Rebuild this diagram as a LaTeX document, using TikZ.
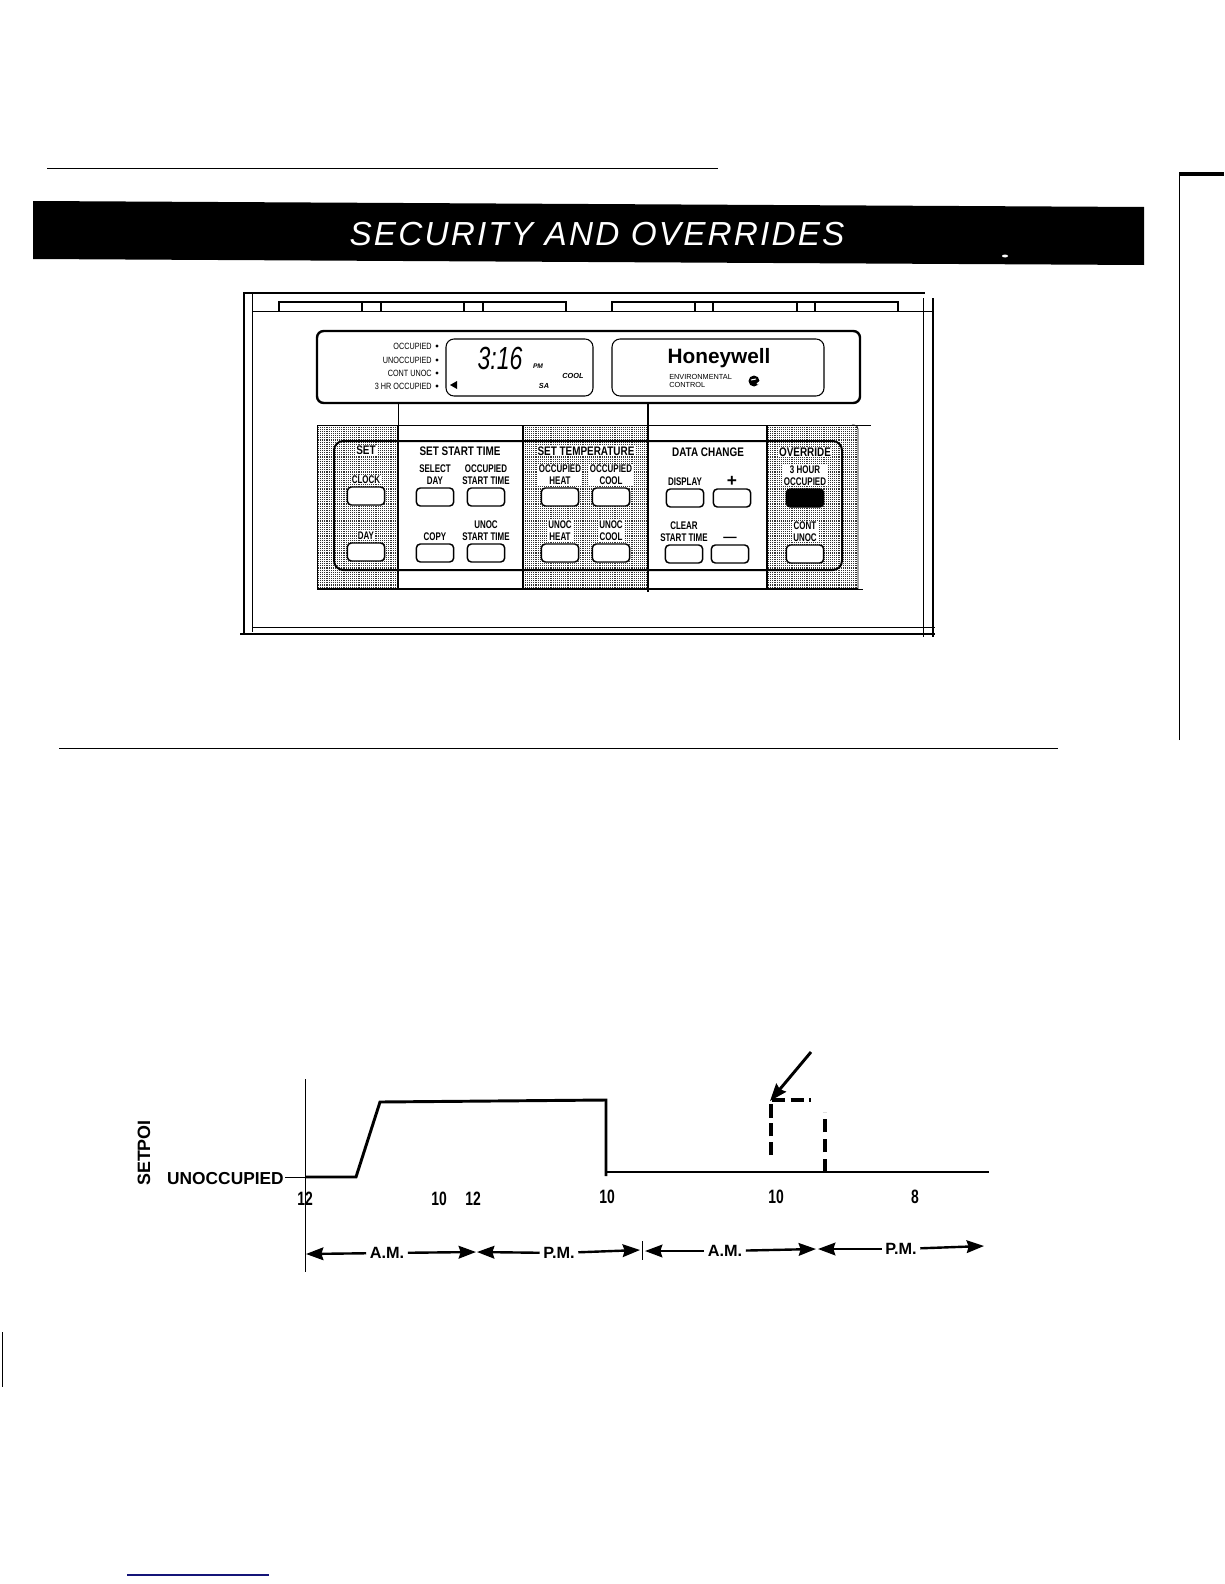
\documentclass[tikz,border=0pt]{standalone}
\usepackage{fontspec}
\usepackage{tikz}
\usetikzlibrary{arrows.meta, positioning, patterns}
\setmainfont{Liberation Sans}
\newfontfamily\keyfont[FakeStretch=0.72]{Liberation Sans}
\newfontfamily\titlefont[FakeStretch=0.8]{Liberation Sans}
\newfontfamily\bannerfont[LetterSpace=6.5]{Liberation Sans}
\pgfdeclarepatternformonly{stipple}{\pgfqpoint{-0.5pt}{-0.5pt}}{\pgfqpoint{2pt}{2pt}}{\pgfqpoint{1.6pt}{1.6pt}}{
  \pgfpathrectangle{\pgfqpoint{0pt}{0pt}}{\pgfqpoint{0.85pt}{0.85pt}}
  \pgfusepath{fill}
}
\definecolor{footblue}{RGB}{20,20,120}
\tikzstyle{rulerline} = [black, line width=0.6pt]
\tikzstyle{keybutton} = [rectangle, rounded corners=3pt, draw=black, line width=1.1pt, fill=white, minimum width=28pt, minimum height=13.5pt, inner sep=0pt]
\tikzstyle{keytext} = [font=\keyfont\bfseries\fontsize{8.3}{8.6}\selectfont, align=center, inner sep=0.6pt]
\tikzstyle{halotext} = [keytext, fill=white]
\tikzstyle{grouptext} = [font=\titlefont\bfseries\fontsize{9.3}{10}\selectfont, inner sep=0.8pt]
\tikzstyle{leftlabel} = [font=\titlefont\fontsize{6.8}{7}\selectfont, anchor=east, inner sep=0pt]
\tikzstyle{hourlabel} = [font=\keyfont\bfseries\fontsize{14.5}{15}\selectfont, inner sep=0pt]
\tikzstyle{spanlabel} = [font=\bfseries\fontsize{12.2}{13}\selectfont, inner sep=2.5pt]
\tikzstyle{spanarrow} = [line width=1.8pt, -{Stealth[length=13pt,width=9.5pt,inset=1.5pt]}]
\tikzstyle{stippled} = [pattern=stipple, pattern color=black!80]
\tikzstyle{wallline} = [line width=2.2pt]
\begin{document}
\begin{tikzpicture}[x=0.75pt, y=-0.75pt]
    \useasboundingbox (0,0) rectangle (1224,1584);

    % Page rules
    \draw[rulerline] (47,168) -- (718,168);
    \draw[rulerline] (59,748) -- (1058,748);
    \draw[line width=0.8pt, footblue] (127,1575) -- (269,1575);
    \draw[line width=0.4pt] (2,1332) -- (2,1387);
    \draw[line width=1pt] (2.5,1338) -- (2.5,1373);
    \draw[line width=0.7pt] (1179,740) -- (1179,174);
    \draw[line width=2.6pt] (1179,174) -- (1224,174);

    % Banner
    \fill[black] (33,201) -- (1144,207) -- (1144,265) -- (33,259) -- cycle;
    \node[white, font=\bannerfont\itshape\fontsize{25}{30}\selectfont] (banner) at (597,234) {SECURITY AND OVERRIDES};
    \fill[white] (1005,256) ellipse (3 and 1.5);

    % Panel frame
    \draw[wallline] (244,293) -- (925,293);
    \draw[wallline] (244,292) -- (244,634);
    \draw[wallline] (240,634) -- (935,634);
    \draw[wallline] (933,298) -- (933,637);
    \draw[line width=0.5pt] (252,293) -- (252,632);
    \draw[line width=0.5pt] (252,627) -- (935,627);
    \draw[line width=0.5pt] (923,298) -- (923,637);
    \draw[line width=0.5pt] (252,311) -- (932,311);

    % Tabs along the top of the panel
    \foreach \xa/\xb in {279/381, 381/483, 483/566, 612/713, 713/815, 815/898} {
        \draw[line width=0.8pt] (\xa,311) -- (\xa,302) -- (\xb,302) -- (\xb,311);
    }
    \foreach \xa in {362, 464, 695, 797} {
        \draw[line width=0.8pt] (\xa,302) -- (\xa,311);
    }

    % Display
    \draw[line width=1.8pt, rounded corners=5pt] (317,331) rectangle (860,403);
    \draw[line width=0.8pt, rounded corners=6pt] (446,339) rectangle (593,396);
    \draw[line width=0.8pt, rounded corners=6pt] (612,339) rectangle (824,396);
    \node[leftlabel] (occ) at (432,346) {OCCUPIED};
    \node[leftlabel] (unocc) at (432,360) {UNOCCUPIED};
    \node[leftlabel] (cont) at (432,373) {CONT UNOC};
    \node[leftlabel] (threehr) at (432,386) {3 HR OCCUPIED};
    \foreach \yy in {346,360,373,386} {
        \fill (437,\yy) circle (1.6);
    }
    \node[font=\keyfont\itshape\fontsize{24}{25}\selectfont, inner sep=0pt] (clockface) at (500,358) {3:16};
    \node[font=\bfseries\itshape\fontsize{5}{6}\selectfont, inner sep=0pt] (pm) at (538,366) {PM};
    \node[font=\bfseries\itshape\fontsize{5.5}{6}\selectfont, inner sep=0pt] (cool) at (573,376) {COOL};
    \node[font=\bfseries\itshape\fontsize{5.5}{6}\selectfont, inner sep=0pt] (sa) at (544,386) {SA};
    \fill (450,385) -- (457,381) -- (457,389) -- cycle;
    \node[font=\bfseries\fontsize{15.6}{16}\selectfont, inner sep=0pt] (logo) at (719,358) {Honeywell};
    \node[font=\fontsize{5.5}{5.6}\selectfont, align=left, anchor=west, inner sep=0pt] (envctrl) at (669,381) {ENVIRONMENTAL\\CONTROL};
    \fill (754,381) circle (5.5);
    \draw[white, line width=0.8pt] (751,380) -- (756,379);
    \draw[white, line width=1.1pt] (757,384) -- (761,381);

    % Stippled key groups
    \fill[stippled] (317,425) rectangle (398,589);
    \fill[stippled] (523,425) rectangle (648,589);
    \path[stippled] (767,425) -- (852,425) [rounded corners=3pt] -- (858,425) -- (858,589) [sharp corners] -- (767,589) -- cycle;

    % Key panel lines
    \draw[line width=0.6pt] (317,425) -- (871,425);
    \draw[line width=1.6pt] (317,589) -- (858,589);
    \draw[line width=0.5pt] (858,589) -- (863,589);
    \draw[line width=0.6pt] (317,425) -- (317,589);
    \draw[line width=0.6pt, rounded corners=3pt] (852,425) -- (858,425) -- (858,589);
    \draw[line width=1.5pt, rounded corners=7pt] (334,441) rectangle (842,570);
    \draw[line width=0.6pt] (398,403) -- (398,425);
    \draw[line width=1.6pt] (398,425) -- (398,589);
    \draw[line width=1.6pt] (523,425) -- (523,589);
    \draw[line width=1.6pt] (648,403) -- (648,592);
    \draw[line width=1.2pt] (767,425) -- (767,589);

    % Group titles
    \node[grouptext, fill=white] (settitle) at (366,450) {SET};
    \node[grouptext] (starttitle) at (460,451) {SET START TIME};
    \node[grouptext, fill=white] (temptitle) at (586,451) {SET TEMPERATURE};
    \node[grouptext] (datatitle) at (708,452) {DATA CHANGE};
    \node[grouptext, fill=white] (overtitle) at (805,452) {OVERRIDE};

    % Keys
    \node[keybutton] (clock) at (366,496) {};
    \node[keybutton] (day) at (366,552) {};
    \node[keybutton] (selectday) at (435,497) {};
    \node[keybutton] (occstart) at (486,497) {};
    \node[keybutton] (copy) at (435,553) {};
    \node[keybutton] (unocstart) at (486,553) {};
    \node[keybutton] (occheat) at (560,497) {};
    \node[keybutton] (occcool) at (611,497) {};
    \node[keybutton] (unocheat) at (560,553) {};
    \node[keybutton] (unoccool) at (611,553) {};
    \node[keybutton] (display) at (685,498) {};
    \node[keybutton] (plus) at (732,498) {};
    \node[keybutton] (clear) at (684,554) {};
    \node[keybutton] (minus) at (730,554) {};
    \node[keybutton, fill=black] (threehour) at (805,498) {};
    \node[keybutton] (contunoc) at (805,554) {};

    % Key labels
    \node[halotext, above=1.5pt of clock] (clocktext) {CLOCK};
    \node[halotext, above=1.5pt of day] (daytext) {DAY};
    \node[keytext, above=1.5pt of selectday] (selecttext) {SELECT\\DAY};
    \node[keytext, above=1.5pt of occstart] (occstarttext) {OCCUPIED\\START TIME};
    \node[keytext, above=1.5pt of copy] (copytext) {COPY};
    \node[keytext, above=1.5pt of unocstart] (unocstarttext) {UNOC\\START TIME};
    \node[halotext, above=1.5pt of occheat] (occheattext) {OCCUPIED\\HEAT};
    \node[halotext, above=1.5pt of occcool] (occcooltext) {OCCUPIED\\COOL};
    \node[halotext, above=1.5pt of unocheat] (unocheattext) {UNOC\\HEAT};
    \node[halotext, above=1.5pt of unoccool] (unoccooltext) {UNOC\\COOL};
    \node[keytext, above=1.5pt of display] (displaytext) {DISPLAY};
    \node[keytext, above=0.5pt of plus, font=\bfseries\fontsize{13}{13}\selectfont] (plustext) {+};
    \node[keytext, above=1.5pt of clear] (cleartext) {CLEAR\\START TIME};
    \node[keytext, above=1.5pt of minus, font=\bfseries\fontsize{10}{10}\selectfont] (minustext) {—};
    \node[halotext, above=1.5pt of threehour] (threetext) {3 HOUR\\OCCUPIED};
    \node[halotext, above=1.5pt of contunoc] (contunoctext) {CONT\\UNOC};

    % Chart
    \coordinate (start) at (306,1177);
    \coordinate (rise) at (356,1177);
    \coordinate (top) at (380,1102);
    \coordinate (drop) at (606,1100);
    \coordinate (dropend) at (606,1176);
    \coordinate (flat) at (606,1172);
    \coordinate (flatend) at (989,1172);
    \draw[line width=0.5pt] (305,1079) -- (305,1272);
    \draw[line width=0.5pt] (285,1177) -- (start);
    \draw[line width=2.2pt, line join=miter] (start) -- (rise) -- (top) -- (drop) -- (dropend);
    \draw[line width=2.2pt] (flat) -- (flatend);
    \draw[line width=2.4pt, dash pattern=on 10pt off 4pt] (771,1155) -- (771,1100) -- (811,1100);
    \draw[line width=2.4pt, dash pattern=on 10pt off 5pt] (825,1172) -- (825,1112);
    \draw[spanarrow, line width=2.2pt] (811,1052) -- (770,1101);

    \node[font=\bfseries\fontsize{13.4}{14}\selectfont, inner sep=0pt, rotate=90] (setpoi) at (144,1153) {SETPOI};
    \node[font=\bfseries\fontsize{13}{14}\selectfont, anchor=east, inner sep=0pt] (unoccupied) at (284,1179) {UNOCCUPIED};
    \node[hourlabel] (hra) at (305,1199) {12};
    \node[hourlabel] (hrb) at (439,1199) {10};
    \node[hourlabel] (hrc) at (473,1199) {12};
    \node[hourlabel] (hrd) at (607,1197) {10};
    \node[hourlabel] (hre) at (776,1197) {10};
    \node[hourlabel] (hrf) at (915,1197) {8};

    % AM and PM spans
    \node[spanlabel] (ama) at (387,1253) {A.M.};
    \node[spanlabel] (pma) at (559,1253) {P.M.};
    \node[spanlabel] (amb) at (725,1251) {A.M.};
    \node[spanlabel] (pmb) at (901,1249) {P.M.};
    \coordinate (amaleft) at (306,1254);
    \coordinate (amaright) at (476,1252);
    \coordinate (pmaleft) at (477,1252);
    \coordinate (pmaright) at (640,1250);
    \coordinate (ambleft) at (645,1251);
    \coordinate (ambright) at (816,1249);
    \coordinate (pmbleft) at (818,1249);
    \coordinate (pmbright) at (984,1246);
    \draw[spanarrow] (ama) -- (amaleft);
    \draw[spanarrow] (ama) -- (amaright);
    \draw[spanarrow] (pma) -- (pmaleft);
    \draw[spanarrow] (pma) -- (pmaright);
    \draw[spanarrow] (amb) -- (ambleft);
    \draw[spanarrow] (amb) -- (ambright);
    \draw[spanarrow] (pmb) -- (pmbleft);
    \draw[spanarrow] (pmb) -- (pmbright);
    \draw[line width=0.5pt] (642,1241) -- (642,1260);
\end{tikzpicture}
\end{document}
